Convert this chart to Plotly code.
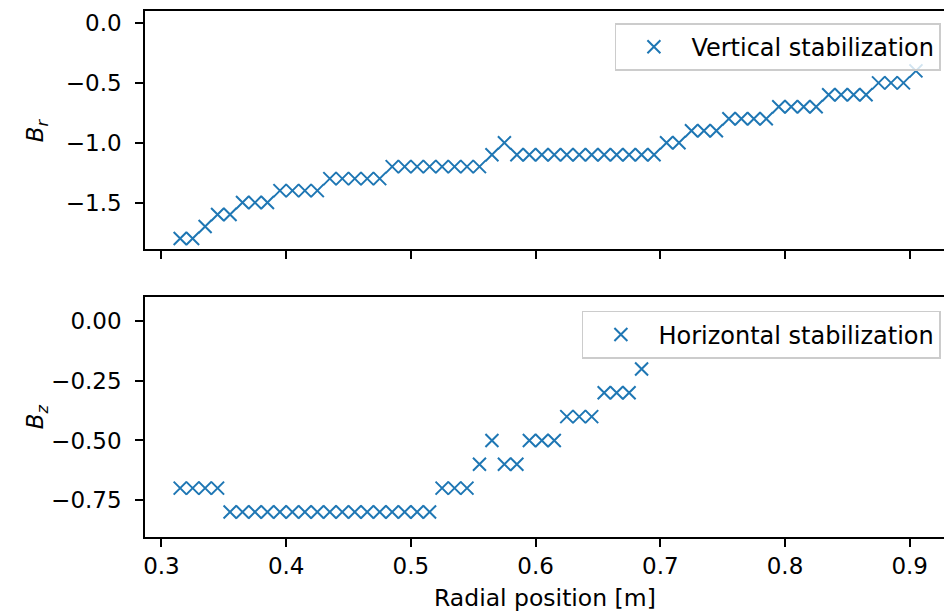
import plotly.graph_objects as go
from plotly.subplots import make_subplots

# ---- data ----
radial_position_r = [0.315, 0.325, 0.335, 0.345, 0.355, 0.365, 0.375, 0.385, 0.395, 0.405,
                     0.415, 0.425, 0.435, 0.445, 0.455, 0.465, 0.475, 0.485, 0.495, 0.505,
                     0.515, 0.525, 0.535, 0.545, 0.555, 0.565, 0.575, 0.585, 0.595, 0.605,
                     0.615, 0.625, 0.635, 0.645, 0.655, 0.665, 0.675, 0.685, 0.695, 0.705,
                     0.715, 0.725, 0.735, 0.745, 0.755, 0.765, 0.775, 0.785, 0.795, 0.805,
                     0.815, 0.825, 0.835, 0.845, 0.855, 0.865, 0.875, 0.885, 0.895, 0.905]
b_r = [-1.8, -1.8, -1.7, -1.6, -1.6, -1.5, -1.5, -1.5, -1.4, -1.4,
       -1.4, -1.4, -1.3, -1.3, -1.3, -1.3, -1.3, -1.2, -1.2, -1.2,
       -1.2, -1.2, -1.2, -1.2, -1.2, -1.1, -1.0, -1.1, -1.1, -1.1,
       -1.1, -1.1, -1.1, -1.1, -1.1, -1.1, -1.1, -1.1, -1.1, -1.0,
       -1.0, -0.9, -0.9, -0.9, -0.8, -0.8, -0.8, -0.8, -0.7, -0.7,
       -0.7, -0.7, -0.6, -0.6, -0.6, -0.6, -0.5, -0.5, -0.5, -0.4]

radial_position_z = [0.315, 0.325, 0.335, 0.345, 0.355, 0.365, 0.375, 0.385, 0.395, 0.405,
                     0.415, 0.425, 0.435, 0.445, 0.455, 0.465, 0.475, 0.485, 0.495, 0.505,
                     0.515, 0.525, 0.535, 0.545, 0.555, 0.565, 0.575, 0.585, 0.595, 0.605,
                     0.615, 0.625, 0.635, 0.645, 0.655, 0.665, 0.675, 0.685]
b_z = [-0.7, -0.7, -0.7, -0.7, -0.8, -0.8, -0.8, -0.8, -0.8, -0.8,
       -0.8, -0.8, -0.8, -0.8, -0.8, -0.8, -0.8, -0.8, -0.8, -0.8,
       -0.8, -0.7, -0.7, -0.7, -0.6, -0.5, -0.6, -0.6, -0.5, -0.5,
       -0.5, -0.4, -0.4, -0.4, -0.3, -0.3, -0.3, -0.2]

x_ticks = [0.3, 0.4, 0.5, 0.6, 0.7, 0.8, 0.9]
x_tick_labels = ["0.3", "0.4", "0.5", "0.6", "0.7", "0.8", "0.9"]
br_ticks = [0.0, -0.5, -1.0, -1.5]
bz_ticks = [0.0, -0.25, -0.5, -0.75]

C0 = "#1f77b4"
FONT = "DejaVu Sans"
FS = 23
FS_LEG = 24

fig = make_subplots(rows=2, cols=1, shared_xaxes=True)

marker = dict(symbol="x-thin", size=13, color=C0, line=dict(width=2, color=C0))

fig.add_trace(go.Scatter(x=radial_position_r, y=b_r, mode="markers", marker=marker,
                         name="Vertical stabilization", legend="legend"), row=1, col=1)
fig.add_trace(go.Scatter(x=radial_position_z, y=b_z, mode="markers", marker=marker,
                         name="Horizontal stabilization", legend="legend2"), row=2, col=1)

axis_common = dict(showline=True, linecolor="black", linewidth=1.6, ticks="outside",
                   ticklen=8, tickwidth=1.6, tickcolor="black", showgrid=False,
                   zeroline=False, tickfont=dict(family=FONT, size=FS, color="black"))

xr = [0.2868, 0.9275]
fig.update_layout(
    xaxis=dict(**axis_common, range=xr, tickvals=x_ticks, ticktext=x_tick_labels,
               showticklabels=False, mirror=True, domain=[0, 1]),
    xaxis2=dict(**axis_common, range=xr, tickvals=x_ticks, ticktext=x_tick_labels,
                mirror=True, domain=[0, 1], ticklabelstandoff=0),
    yaxis=dict(**axis_common, range=[-1.89, 0.1], tickvals=br_ticks, tickformat=".1f",
               domain=[0.547, 1], ticklabelstandoff=9),
    yaxis2=dict(**axis_common, range=[-0.905, 0.1], tickvals=bz_ticks, tickformat=".2f",
                domain=[0, 0.4554], ticklabelstandoff=9),
)

legend_common = dict(font=dict(family=FONT, size=FS_LEG, color="black"),
                     bgcolor="rgba(255,255,255,0.8)", bordercolor="#cccccc",
                     borderwidth=1.6, xanchor="right", yanchor="top", itemwidth=65)
fig.update_layout(
    legend=dict(**legend_common, x=0.996, y=0.977),
    legend2=dict(**legend_common, x=0.996, y=0.43),
)

fig.add_annotation(text="<i>B<sub>r</sub></i>", xref="paper", yref="paper", x=-0.135,
                   y=0.7736, showarrow=False, textangle=-90, xanchor="center",
                   yanchor="middle", font=dict(family=FONT, size=FS, color="black"))
fig.add_annotation(text="<i>B<sub>z</sub></i>", xref="paper", yref="paper", x=-0.135,
                   y=0.2277, showarrow=False, textangle=-90, xanchor="center",
                   yanchor="middle", font=dict(family=FONT, size=FS, color="black"))
fig.add_annotation(text="Radial position [m]", xref="paper", yref="paper", x=0.5,
                   y=-0.1166, showarrow=False, xanchor="center", yanchor="middle",
                   font=dict(family=FONT, size=23.5, color="black"))

fig.update_layout(width=944, height=613, margin=dict(l=145, r=0, t=11, b=76),
                  plot_bgcolor="white", paper_bgcolor="white", showlegend=True)

fig.write_html("out.html", config={"displayModeBar": False},
               post_script="document.body.style.margin='0';"
                           "document.body.style.overflow='hidden';")
